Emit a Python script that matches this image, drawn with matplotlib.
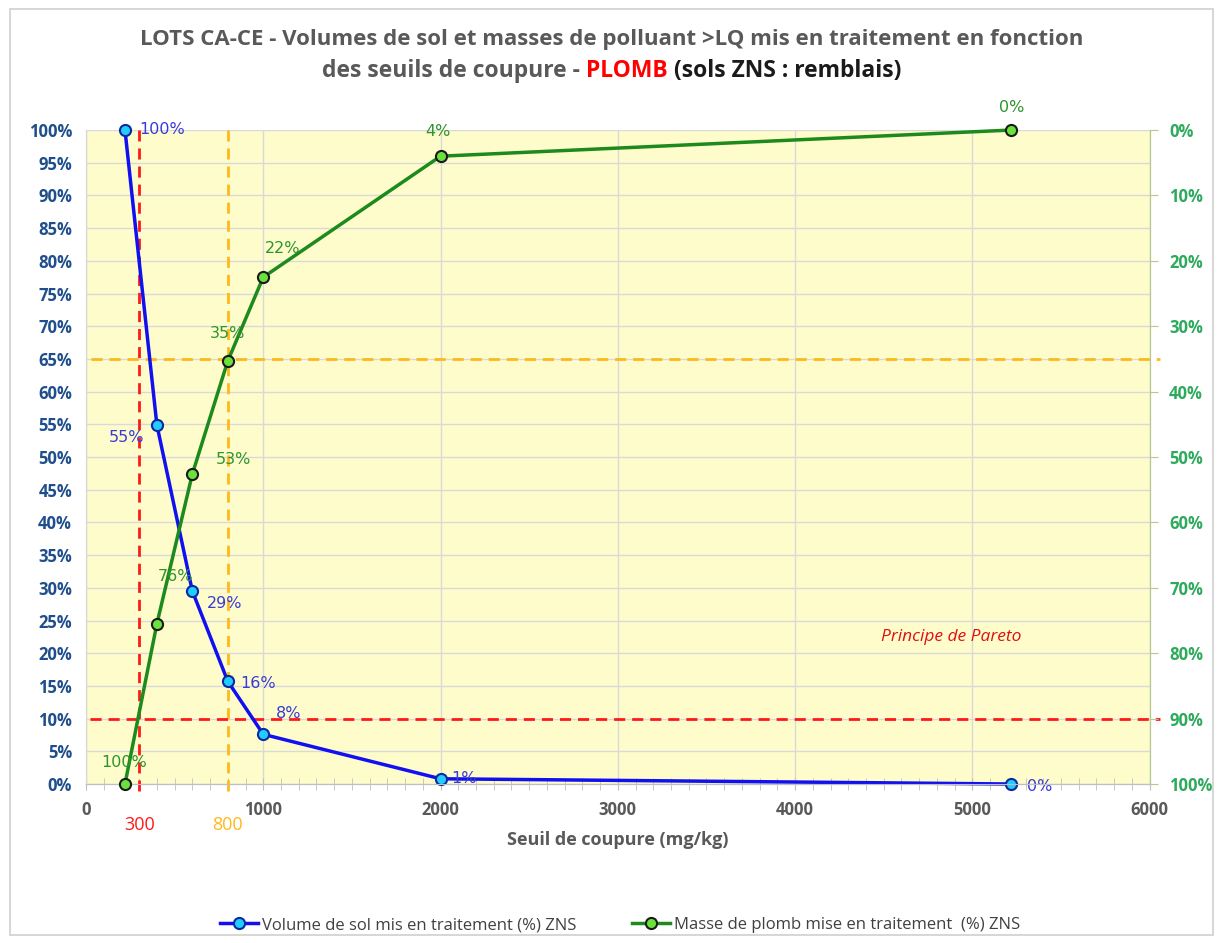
import matplotlib
matplotlib.use("Agg")
import matplotlib.pyplot as plt
from matplotlib.ticker import MultipleLocator, FuncFormatter
from matplotlib.patches import Rectangle

# ---- data ----
seuils = [220, 400, 600, 800, 1000, 2000, 5220]
volume_pct = [100, 54.9, 29.5, 15.7, 7.6, 0.8, 0.0]
masse_pct = [100, 75.5, 52.6, 35.3, 22.5, 4.0, 0.0]
volume_labels = ["100%", "55%", "29%", "16%", "8%", "1%", "0%"]
masse_labels = ["100%", "76%", "53%", "35%", "22%", "4%", "0%"]
seuil_rouge = 300
seuil_orange = 800
pareto_vol = 10
pareto_masse = 65

FONT = ["Open Sans", "DejaVu Sans"]
plt.rcParams['font.family'] = FONT

fig = plt.figure(figsize=(12.23, 9.43), dpi=100)
fig.patches.append(Rectangle((0.008, 0.008), 0.984, 0.982, transform=fig.transFigure,
                             fill=False, edgecolor="#D0D0D0", lw=1.2))

ax = fig.add_axes([0.0703, 0.1686, 0.8697, 0.6935])
ax.set_facecolor("#FEFCCB")
ax2 = ax.twinx()

# blue series
blue = "#1010F0"
ax.plot(seuils, volume_pct, color=blue, lw=2.5, marker="o", ms=8,
        mfc="#22CCFF", mec="#0A2AA0", mew=1.5, zorder=5, clip_on=False,
        label="Volume de sol mis en traitement (%) ZNS")

green = "#1C8A1C"
ax2.plot(seuils, masse_pct, color=green, lw=2.5, marker="o", ms=8,
         mfc="#6BE23C", mec="#1A1A1A", mew=1.5, zorder=5, clip_on=False,
         label="Masse de plomb mise en traitement  (%) ZNS")

ax.set_xlim(0, 6000)
ax.set_ylim(0, 100)
ax2.set_ylim(100, 0)

# reference lines
dash = (0, (4, 2.5))
ax.axvline(seuil_rouge, ymin=-0.01, ymax=1.0, color="#FF1A1A", ls=dash, lw=2, zorder=4, clip_on=False)
ax.axvline(seuil_orange, ymin=-0.01, ymax=1.005, color="#FFB81C", ls=dash, lw=2, zorder=4, clip_on=False)
ax.plot([20, 6060], [pareto_vol, pareto_vol], color="#FF1A1A", ls=dash, lw=2, zorder=4, clip_on=False)
ax.plot([30, 6060], [pareto_masse, pareto_masse], color="#FFB81C", ls=dash, lw=2, zorder=4, clip_on=False)

# grid
ax.yaxis.set_major_locator(MultipleLocator(5))
ax.xaxis.set_major_locator(MultipleLocator(1000))
ax.xaxis.set_minor_locator(MultipleLocator(100))
ax.grid(True, which="major", color="#D9D9D9", lw=1)
ax.set_axisbelow(True)
ax.tick_params(axis="x", which="minor", length=8, direction="inout", color="#BFBFBF")
ax.tick_params(axis="x", which="major", length=8, direction="inout", color="#BFBFBF",
               labelsize=12, labelcolor="#595959", pad=8)
ax.tick_params(axis="y", length=0, labelsize=12, labelcolor="#1F4E8C", pad=10)
for t in ax.get_xticklabels() + ax.get_yticklabels():
    t.set_fontweight("bold")
ax.yaxis.set_major_formatter(FuncFormatter(lambda v, p: f"{v:.0f}%"))

ax2.yaxis.set_major_locator(MultipleLocator(10))
ax2.yaxis.set_major_formatter(FuncFormatter(lambda v, p: f"{v:.0f}%"))
ax2.tick_params(axis="y", length=6, color="#B5C98F", labelsize=12, labelcolor="#2EAA5C", pad=8)
for t in ax2.get_yticklabels():
    t.set_fontweight("bold")

for a in (ax, ax2):
    a.spines["top"].set_visible(False)
    a.spines["left"].set_color("#D9D9D9")
    a.spines["bottom"].set_color("#BFBFBF")
    a.spines["right"].set_color("#B5C98F")

LBL = ["DejaVu Sans"]
# data labels (offsets in pixels, label centre relative to point)
vol_off = [(37, 1), (-30, -13), (32, -12), (30, -2), (25, 21), (23, 0), (28, -2)]
for x, y, s, (dx, dy) in zip(seuils, volume_pct, volume_labels, vol_off):
    ax.annotate(s, (x, y), xytext=(dx, dy), textcoords="offset pixels",
                color="#3A3AD8", fontsize=11.5, family=LBL, ha="center", va="center", zorder=6)
mas_off = [(-1, 22), (19, 47), (41, 15), (0, 27), (19, 29), (-3, 25), (0, 23)]
for x, y, s, (dx, dy) in zip(seuils, masse_pct, masse_labels, mas_off):
    ax2.annotate(s, (x, y), xytext=(dx, dy), textcoords="offset pixels",
                 color="#2E942E", fontsize=11.5, family=LBL, ha="center", va="center", zorder=6)

ax.text(4880, 22.5, "Principe de Pareto", color="#E01010", fontsize=12.5, style="italic",
        ha="center", va="center")

# extra threshold labels
ax.annotate("300", (seuil_rouge, 0), xytext=(0, -41), textcoords="offset pixels",
            color="#FF1A1A", fontsize=13, ha="center", va="center", annotation_clip=False)
ax.annotate("800", (seuil_orange, 0), xytext=(0, -41), textcoords="offset pixels",
            color="#FFB81C", fontsize=13, ha="center", va="center", annotation_clip=False)

ax.set_xlabel("Seuil de coupure (mg/kg)", fontsize=13, fontweight="bold", color="#595959", labelpad=9)

# title
fig.text(0.5, 0.958, "LOTS CA-CE - Volumes de sol et masses de polluant >LQ mis en traitement en fonction",
         ha="center", va="center", fontsize=16, fontweight="bold", color="#595959")
y2 = 0.925
parts = [("des seuils de coupure - ", "#595959"), ("PLOMB", "#FF0000"), (" (sols ZNS : remblais)", "#1A1A1A")]
texts = [fig.text(0, y2, s, ha="left", va="center", fontsize=16.5, fontweight="bold", color=c)
         for s, c in parts]
fig.canvas.draw()
r = fig.canvas.get_renderer()
widths = [t.get_window_extent(r).width / fig.bbox.width for t in texts]
x = 0.5 - sum(widths) / 2
for t, w in zip(texts, widths):
    t.set_x(x)
    x += w

h1, l1 = ax.get_legend_handles_labels()
h2, l2 = ax2.get_legend_handles_labels()
fig.legend(h1 + h2, l1 + l2, loc="center", bbox_to_anchor=(0.507, 0.019), ncol=2, frameon=False,
           fontsize=12, handlelength=2.3, handletextpad=0.25, columnspacing=3.3, labelcolor="#404040")

fig.savefig("out.png", dpi=100)
